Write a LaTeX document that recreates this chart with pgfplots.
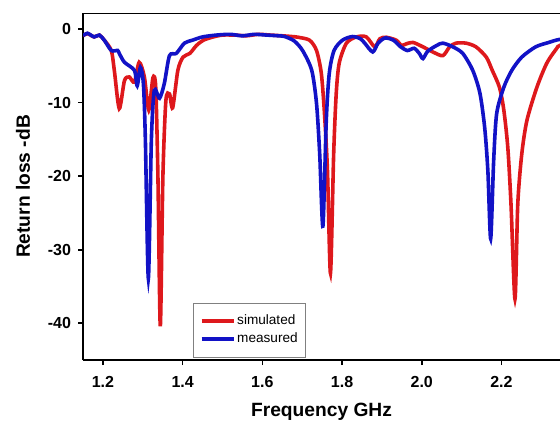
\documentclass[border=0pt]{standalone}
\usepackage{fontspec}
\setmainfont{Liberation Sans}
\usepackage{pgfplots}
\pgfplotsset{compat=1.18}
\definecolor{simred}{RGB}{222,24,28}
\definecolor{measblue}{RGB}{18,18,198}

\begin{document}
\begin{tikzpicture}
\begin{axis}[
  name=ax,
  scale only axis,
  width=238.5pt, height=173.5pt,
  xmin=1.15, xmax=2.347,
  ymin=-45, ymax=2.2,
  axis lines*=left,
  axis line style={-, line width=0.9pt},
  tick align=outside,
  major tick length=2.5pt,
  tick style={line width=0.8pt, black},
  xtick={1.2,1.4,1.6,1.8,2.0,2.2},
  ytick={-40,-30,-20,-10,0},
  xticklabel style={/pgf/number format/fixed, /pgf/number format/fixed zerofill, /pgf/number format/precision=1, yshift=-2pt},
  /pgf/number format/assume math mode=true,
  tick label style={font=\fontsize{8}{9}\selectfont\bfseries},
  label style={font=\fontsize{9.6}{11}\selectfont\bfseries},
  xlabel={Frequency GHz},
  ylabel={Return loss -dB},
  xlabel style={yshift=-1pt},
  ylabel style={yshift=2pt},
  legend style={
    at={(0.2306,0.006)}, anchor=south west,
    draw=gray, line width=0.6pt,
    font=\fontsize{6.8}{8}\selectfont,
    nodes={inner sep=0.8pt},
    inner xsep=3pt, inner ysep=5pt,
    row sep=1pt,
    legend cell align=left
  },
  legend image code/.code={\draw[#1, line width=2pt] (0pt,0pt) -- (16pt,0pt);},
]
% simulated
\addplot[simred, line width=1.8pt, smooth, tension=0.45] coordinates {
(1.150,-0.9) (1.161,-0.6) (1.178,-1.05) (1.191,-0.8) (1.2035,-1.5) (1.221,-2.9)
(1.2286,-5.6) (1.241,-10.8) (1.254,-7.0) (1.266,-6.5) (1.279,-7.2) (1.291,-4.5)
(1.304,-6.5) (1.315,-11.0) (1.3255,-6.6) (1.3325,-7.9) (1.338,-20) (1.344,-40.4)
(1.3505,-20) (1.358,-9.7) (1.367,-8.8) (1.375,-10.7) (1.388,-5.6) (1.401,-3.8)
(1.418,-3.3) (1.435,-2.2) (1.452,-1.5) (1.477,-1.05) (1.500,-0.8) (1.530,-0.8)
(1.560,-0.9) (1.590,-0.7) (1.620,-0.8) (1.650,-0.9) (1.674,-1.0) (1.690,-1.1)
(1.7186,-1.5) (1.736,-2.9) (1.748,-6.0) (1.756,-11.5) (1.7635,-19.3) (1.771,-33.2)
(1.779,-17.0) (1.7855,-8.7) (1.793,-4.6) (1.811,-1.9) (1.836,-1.05) (1.861,-1.05)
(1.882,-2.4) (1.895,-1.3) (1.911,-1.1) (1.936,-1.5) (1.949,-2.2) (1.961,-2.0)
(1.978,-1.8) (2.003,-2.4) (2.028,-3.1) (2.053,-3.6) (2.070,-2.4) (2.086,-1.9)
(2.111,-1.9) (2.136,-2.4) (2.162,-3.8) (2.177,-5.6) (2.195,-7.9) (2.206,-11.0)
(2.216,-16.1) (2.224,-23.8) (2.234,-36.7) (2.241,-23.8) (2.251,-17.0) (2.264,-12.4)
(2.289,-7.9) (2.314,-4.6) (2.339,-2.6) (2.347,-2.2) (2.400,-1.2)
};
% measured
\addplot[measblue, line width=1.8pt, smooth, tension=0.45] coordinates {
(1.150,-0.9) (1.161,-0.55) (1.178,-1.05) (1.191,-0.8) (1.2035,-1.5) (1.221,-2.9)
(1.237,-2.9) (1.241,-3.3) (1.254,-4.5) (1.279,-5.6) (1.286,-7.7) (1.294,-5.2)
(1.3015,-7.4) (1.3065,-15) (1.314,-33.9) (1.3216,-15) (1.329,-8.3) (1.342,-9.4)
(1.354,-7.4) (1.367,-3.6) (1.384,-3.3) (1.4045,-1.9) (1.4246,-1.5) (1.450,-1.05)
(1.485,-0.8) (1.520,-0.7) (1.550,-0.9) (1.580,-0.7) (1.610,-0.8) (1.640,-0.9)
(1.656,-1.0) (1.680,-1.6) (1.701,-2.9) (1.724,-5.6) (1.736,-10.1) (1.744,-17.0)
(1.752,-26.8) (1.7605,-12.4) (1.768,-6.0) (1.780,-2.9) (1.801,-1.5) (1.826,-1.0)
(1.846,-1.3) (1.857,-1.9) (1.877,-3.1) (1.8905,-1.9) (1.908,-1.2) (1.929,-1.5)
(1.947,-2.4) (1.964,-2.9) (1.981,-2.6) (1.994,-3.3) (2.003,-4.0) (2.015,-3.0)
(2.038,-2.2) (2.053,-1.9) (2.078,-2.4) (2.103,-3.3) (2.128,-5.6) (2.146,-8.7)
(2.158,-13.4) (2.166,-19.3) (2.173,-28.5) (2.1805,-17.9) (2.188,-11.5) (2.206,-7.9)
(2.226,-5.6) (2.251,-3.8) (2.286,-2.4) (2.319,-1.8) (2.345,-1.4) (2.400,-1.0)
};
\legend{simulated,measured}
\draw[line width=0.9pt] (rel axis cs:0,1) -- (rel axis cs:1,1);
\end{axis}
\pgfresetboundingbox
\path ([xshift=-41.5pt,yshift=-32.5pt]ax.south west) rectangle ([yshift=6.5pt]ax.north east);
\end{tikzpicture}
\end{document}
